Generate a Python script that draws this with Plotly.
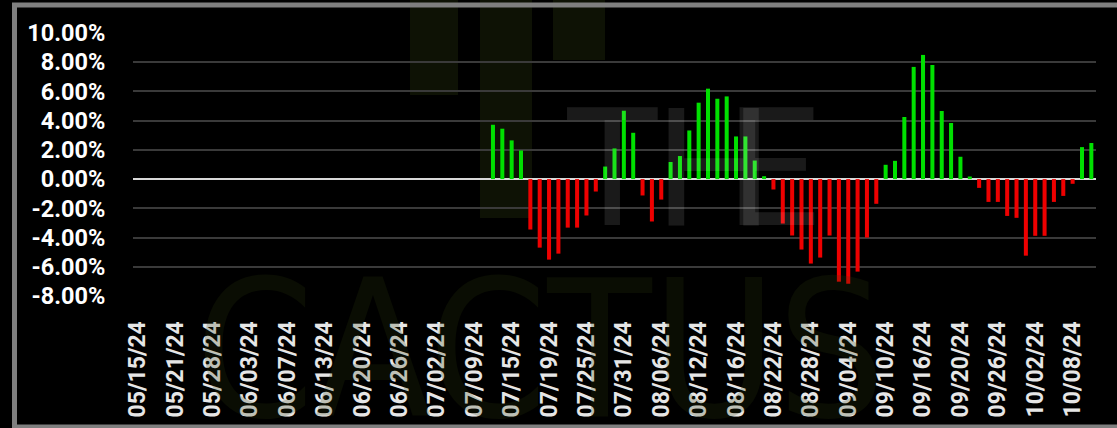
import plotly.graph_objects as go

dates = [
    "05/15/24", "05/16/24", "05/17/24", "05/20/24", "05/21/24", "05/22/24", "05/23/24", "05/24/24",
    "05/28/24", "05/29/24", "05/30/24", "05/31/24", "06/03/24", "06/04/24", "06/05/24", "06/06/24",
    "06/07/24", "06/10/24", "06/11/24", "06/12/24", "06/13/24", "06/14/24", "06/17/24", "06/18/24",
    "06/20/24", "06/21/24", "06/24/24", "06/25/24", "06/26/24", "06/27/24", "06/28/24", "07/01/24",
    "07/02/24", "07/03/24", "07/05/24", "07/08/24", "07/09/24", "07/10/24", "07/11/24", "07/12/24",
    "07/15/24", "07/16/24", "07/17/24", "07/18/24", "07/19/24", "07/22/24", "07/23/24", "07/24/24",
    "07/25/24", "07/26/24", "07/29/24", "07/30/24", "07/31/24", "08/01/24", "08/02/24", "08/05/24",
    "08/06/24", "08/07/24", "08/08/24", "08/09/24", "08/12/24", "08/13/24", "08/14/24", "08/15/24",
    "08/16/24", "08/19/24", "08/20/24", "08/21/24", "08/22/24", "08/23/24", "08/26/24", "08/27/24",
    "08/28/24", "08/29/24", "08/30/24", "09/03/24", "09/04/24", "09/05/24", "09/06/24", "09/09/24",
    "09/10/24", "09/11/24", "09/12/24", "09/13/24", "09/16/24", "09/17/24", "09/18/24", "09/19/24",
    "09/20/24", "09/23/24", "09/24/24", "09/25/24", "09/26/24", "09/27/24", "09/30/24", "10/01/24",
    "10/02/24", "10/03/24", "10/04/24", "10/07/24", "10/08/24", "10/09/24", "10/10/24",
]

# percent change values (None = no data)
values = [None] * 38 + [
    3.72, 3.45, 2.65, 1.96, -3.45, -4.69, -5.51, -5.10, -3.32, -3.32, -2.49, -0.85,
    0.86, 2.10, 4.68, 3.17, -1.12, -2.90, -1.40, 1.17, 1.58, 3.33, 5.23, 6.19,
    5.50, 5.66, 2.92, 2.92, 1.27, 0.20, -0.71, -3.04, -3.86, -4.82, -5.78, -5.37,
    -3.86, -7.02, -7.16, -6.33, -4.00, -1.69, 0.98, 1.25, 4.25, 7.68, 8.50, 7.81,
    4.66, 3.84, 1.53, 0.18, -0.60, -1.56, -1.56, -2.52, -2.65, -5.24, -3.88, -3.88,
    -1.56, -1.15, -0.32, 2.19, 2.47,
]

x_tick_labels = [
    "05/15/24", "05/21/24", "05/28/24", "06/03/24", "06/07/24", "06/13/24", "06/20/24",
    "06/26/24", "07/02/24", "07/09/24", "07/15/24", "07/19/24", "07/25/24", "07/31/24",
    "08/06/24", "08/12/24", "08/16/24", "08/22/24", "08/28/24", "09/04/24", "09/10/24",
    "09/16/24", "09/20/24", "09/26/24", "10/02/24", "10/08/24",
]

y_tick_vals = [10, 8, 6, 4, 2, 0, -2, -4, -6, -8]
y_tick_text = ["10.00%", "8.00%", "6.00%", "4.00%", "2.00%", "0.00%",
               "-2.00%", "-4.00%", "-6.00%", "-8.00%"]

GREEN = "#00e000"
RED = "#ee0000"
colors = [GREEN if (v is not None and v >= 0) else RED for v in values]

W, H = 1117, 428
ML, MR, MT, MB = 133, 21, 33, 132
PW, PH = W - ML - MR, H - MT - MB


def px_x(p):
    return (p - ML) / PW


def px_y(p):
    return (H - MB - p) / PH


fig = go.Figure()
fig.add_trace(go.Bar(
    x=dates, y=values,
    marker=dict(color=colors, line=dict(width=0)),
    hoverinfo="x+y",
))

shapes = []
# faint cactus logo watermark
olive = "rgba(45,60,15,0.3)"
for (a, b, top, bottom) in [(480, 532, -10, 218), (410, 458, -10, 95), (553, 605, -10, 60)]:
    shapes.append(dict(type="rect", xref="paper", yref="paper", layer="below",
                       x0=px_x(a), x1=px_x(b), y0=px_y(bottom), y1=px_y(top),
                       fillcolor=olive, line=dict(width=0)))
# outer frame
shapes.append(dict(type="rect", xref="paper", yref="paper", layer="above",
                   x0=px_x(14.5), x1=px_x(1125), y0=px_y(427), y1=px_y(5),
                   line=dict(color="#7f7f7f", width=5), fillcolor="rgba(0,0,0,0)"))

wm_gray = "rgba(255,255,255,0.10)"
annotations = [
    dict(text="T", x=px_x(612), y=px_y(168), xref="paper", yref="paper", showarrow=False,
         font=dict(family="Roboto", size=165, color=wm_gray), yanchor="middle"),
    dict(text="H", x=px_x(714), y=px_y(168), xref="paper", yref="paper", showarrow=False,
         font=dict(family="Roboto", size=165, color=wm_gray), yanchor="middle"),
    dict(text="E", x=px_x(822), y=px_y(168), xref="paper", yref="paper", showarrow=False,
         font=dict(family="Roboto", size=165, color=wm_gray), yanchor="middle"),
    dict(text="CACTUS", x=px_x(540), y=px_y(350), xref="paper", yref="paper", showarrow=False,
         font=dict(family="DejaVu Sans Condensed", size=190, color="rgba(45,60,15,0.22)"),
         yanchor="middle"),
]

fig.update_layout(
    width=W, height=H,
    margin=dict(l=ML, r=MR, t=MT, b=MB, pad=0),
    paper_bgcolor="#000000", plot_bgcolor="rgba(0,0,0,0)",
    showlegend=False,
    bargap=0.57,
    shapes=shapes,
    annotations=annotations,
    xaxis=dict(
        type="category",
        tickmode="array", tickvals=x_tick_labels, ticktext=x_tick_labels,
        tickangle=-90,
        ticks="outside", ticklen=15, tickcolor="rgba(0,0,0,0)",
        tickfont=dict(family="Roboto", size=23, color="#e6e6e6", weight="bold"),
        showgrid=False, showline=False, zeroline=False,
    ),
    yaxis=dict(
        range=[-8, 10],
        tickmode="array", tickvals=y_tick_vals, ticktext=y_tick_text,
        ticks="outside", ticklen=22, tickcolor="rgba(0,0,0,0)",
        tickfont=dict(family="Roboto", size=23.5, color="#ffffff", weight="bold"),
        showgrid=True, gridcolor="#3a3a3a", gridwidth=1.5,
        zeroline=True, zerolinecolor="#d8d8d8", zerolinewidth=2,
        showline=False,
    ),
)

fig.write_html(
    "out.html",
    config={"displayModeBar": False},
    post_script="document.body.style.margin='0';document.body.style.overflow='hidden';",
)
